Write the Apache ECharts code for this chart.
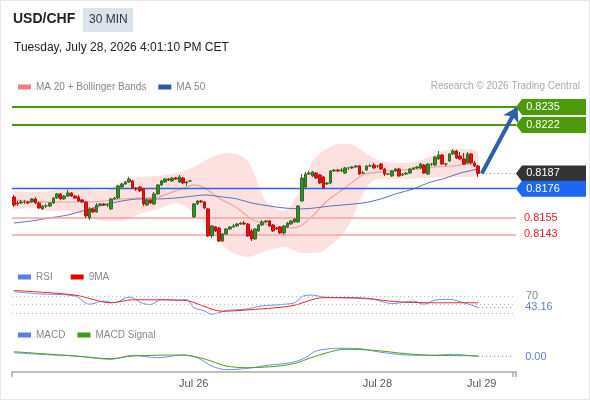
<!DOCTYPE html>
<html>
<head>
<meta charset="utf-8">
<script src="https://cdn.jsdelivr.net/npm/echarts@6/dist/echarts.min.js"></script>
<style>
html,body{margin:0;padding:0;background:#fff;}
#c{width:590px;height:400px;box-sizing:border-box;border:1px solid #e6eaef;}
</style>
</head>
<body>
<div id="c"></div>
<script>
// ---- data ----
const slots = 140;                       // 30-min slots on the time axis
const tickIdx = [50, 101, 130];
const tickText = ['Jul 26', 'Jul 28', 'Jul 29'];

// candles: [open, close, low, high]
const ohlc = [
[0.81700,0.81642,0.81628,0.81715],[0.81657,0.81650,0.81635,0.81671],[0.81657,0.81664,0.81650,0.81679],
[0.81664,0.81664,0.81650,0.81679],[0.81664,0.81657,0.81650,0.81671],[0.81664,0.81686,0.81657,0.81693],
[0.81686,0.81657,0.81650,0.81700],[0.81657,0.81621,0.81614,0.81664],[0.81614,0.81635,0.81606,0.81642],
[0.81635,0.81635,0.81621,0.81650],[0.81635,0.81657,0.81628,0.81664],[0.81657,0.81693,0.81650,0.81700],
[0.81693,0.81722,0.81686,0.81729],[0.81722,0.81686,0.81679,0.81729],[0.81686,0.81707,0.81679,0.81715],
[0.81707,0.81729,0.81700,0.81751],[0.81729,0.81707,0.81700,0.81736],[0.81707,0.81693,0.81686,0.81715],
[0.81700,0.81671,0.81664,0.81715],[0.81679,0.81664,0.81657,0.81686],[0.81664,0.81563,0.81549,0.81671],
[0.81549,0.81614,0.81534,0.81628],[0.81614,0.81592,0.81585,0.81621],[0.81592,0.81642,0.81585,0.81657],
[0.81642,0.81650,0.81635,0.81657],[0.81650,0.81642,0.81635,0.81657],[0.81642,0.81642,0.81628,0.81657],
[0.81614,0.81686,0.81606,0.81693],[0.81686,0.81693,0.81679,0.81700],[0.81693,0.81780,0.81686,0.81787],
[0.81772,0.81794,0.81765,0.81801],[0.81794,0.81808,0.81787,0.81816],[0.81808,0.81830,0.81801,0.81845],
[0.81816,0.81765,0.81758,0.81823],[0.81765,0.81758,0.81744,0.81772],[0.81772,0.81744,0.81736,0.81780],
[0.81758,0.81650,0.81635,0.81765],[0.81642,0.81679,0.81635,0.81686],[0.81679,0.81657,0.81650,0.81686],
[0.81650,0.81722,0.81642,0.81736],[0.81722,0.81787,0.81715,0.81794],[0.81787,0.81816,0.81780,0.81823],
[0.81808,0.81830,0.81801,0.81837],[0.81830,0.81823,0.81816,0.81837],[0.81816,0.81837,0.81808,0.81845],
[0.81837,0.81830,0.81823,0.81845],[0.81808,0.81845,0.81801,0.81859],[0.81837,0.81801,0.81794,0.81845],
[0.81801,0.81808,0.81780,0.81816],[0.81816,0.81816,0.81808,0.81816],[0.81556,0.81650,0.81549,0.81657],
[0.81650,0.81671,0.81642,0.81679],[0.81671,0.81664,0.81657,0.81679],[0.81664,0.81621,0.81614,0.81671],
[0.81614,0.81419,0.81411,0.81621],[0.81419,0.81491,0.81404,0.81498],[0.81484,0.81455,0.81448,0.81491],
[0.81476,0.81382,0.81375,0.81484],[0.81382,0.81433,0.81375,0.81440],[0.81433,0.81469,0.81426,0.81476],
[0.81469,0.81484,0.81462,0.81491],[0.81484,0.81491,0.81476,0.81505],[0.81491,0.81505,0.81484,0.81512],
[0.81505,0.81512,0.81498,0.81520],[0.81512,0.81505,0.81498,0.81527],[0.81505,0.81419,0.81411,0.81512],
[0.81455,0.81397,0.81382,0.81469],[0.81397,0.81469,0.81390,0.81476],[0.81455,0.81498,0.81448,0.81505],
[0.81498,0.81520,0.81491,0.81534],[0.81520,0.81527,0.81512,0.81534],[0.81527,0.81491,0.81484,0.81534],
[0.81498,0.81455,0.81448,0.81505],[0.81476,0.81469,0.81462,0.81484],[0.81484,0.81440,0.81433,0.81491],
[0.81440,0.81491,0.81426,0.81498],[0.81484,0.81512,0.81476,0.81520],[0.81505,0.81527,0.81498,0.81534],
[0.81520,0.81541,0.81512,0.81549],[0.81520,0.81635,0.81512,0.81642],[0.81671,0.81837,0.81664,0.81866],
[0.81772,0.81866,0.81758,0.81881],[0.81866,0.81873,0.81859,0.81888],[0.81852,0.81881,0.81845,0.81888],
[0.81873,0.81837,0.81830,0.81881],[0.81859,0.81801,0.81794,0.81866],[0.81845,0.81765,0.81758,0.81852],
[0.81794,0.81801,0.81787,0.81808],[0.81801,0.81888,0.81794,0.81895],[0.81888,0.81895,0.81881,0.81902],
[0.81895,0.81888,0.81881,0.81902],[0.81888,0.81895,0.81881,0.81910],[0.81873,0.81910,0.81866,0.81917],
[0.81910,0.81910,0.81895,0.81917],[0.81910,0.81917,0.81902,0.81924],[0.81917,0.81924,0.81910,0.81931],
[0.81924,0.81866,0.81859,0.81931],[0.81873,0.81873,0.81866,0.81888],[0.81895,0.81924,0.81888,0.81931],
[0.81924,0.81924,0.81917,0.81938],[0.81931,0.81910,0.81902,0.81946],[0.81924,0.81924,0.81910,0.81931],
[0.81938,0.81902,0.81895,0.81946],[0.81902,0.81866,0.81852,0.81910],[0.81866,0.81866,0.81859,0.81873],
[0.81852,0.81888,0.81845,0.81895],[0.81888,0.81902,0.81881,0.81910],[0.81902,0.81852,0.81845,0.81910],
[0.81859,0.81866,0.81852,0.81873],[0.81866,0.81873,0.81859,0.81881],[0.81873,0.81902,0.81866,0.81910],
[0.81902,0.81910,0.81895,0.81917],[0.81910,0.81917,0.81902,0.81924],[0.81910,0.81938,0.81902,0.81946],
[0.81931,0.81873,0.81866,0.81938],[0.81866,0.81938,0.81859,0.81946],[0.81938,0.81938,0.81924,0.81946],
[0.81931,0.81989,0.81924,0.81996],[0.81975,0.82003,0.81967,0.82032],[0.82003,0.81938,0.81931,0.82011],
[0.81938,0.81938,0.81924,0.81946],[0.81960,0.82011,0.81953,0.82018],[0.82011,0.82032,0.82003,0.82047],
[0.82032,0.81982,0.81975,0.82040],[0.81996,0.81975,0.81967,0.82025],[0.81975,0.81938,0.81931,0.82018],
[0.81946,0.82011,0.81938,0.82025],[0.82011,0.81946,0.81938,0.82018],[0.81946,0.81924,0.81917,0.81960],
[0.81924,0.81870,0.81845,0.81931]
];

// Bollinger bands [slot, value]
const bbUpper = [[0,0.81744],[5,0.81736],[10,0.81744],[15,0.81765],[20,0.81758],[25,0.81744],[30,0.81816],[35,0.81845],[40,0.81852],[45,0.81873],[50,0.81917],[55,0.81989],[60,0.82018],[65,0.81960],[70,0.81671],[75,0.81599],[80,0.81780],[83,0.81960],[86,0.82032],[90,0.82083],[93,0.82083],[96,0.82047],[99,0.81996],[102,0.81960],[106,0.81946],[110,0.81946],[114,0.81975],[118,0.82018],[122,0.82047],[126,0.82047],[129,0.82032]];
const bbLower = [[0,0.81614],[5,0.81621],[10,0.81599],[15,0.81599],[20,0.81563],[25,0.81527],[30,0.81527],[35,0.81577],[40,0.81614],[45,0.81657],[50,0.81585],[55,0.81440],[60,0.81310],[65,0.81267],[70,0.81310],[75,0.81339],[80,0.81296],[83,0.81296],[86,0.81310],[90,0.81397],[93,0.81491],[96,0.81671],[99,0.81801],[102,0.81830],[106,0.81830],[110,0.81830],[114,0.81837],[118,0.81845],[122,0.81845],[126,0.81845],[129,0.81852]];
const ma20 = [[0,0.81679],[10,0.81664],[20,0.81664],[25,0.81671],[30,0.81686],[35,0.81693],[40,0.81700],[45,0.81744],[48,0.81772],[50,0.81787],[53,0.81765],[57,0.81693],[62,0.81621],[66,0.81541],[70,0.81505],[75,0.81476],[79,0.81484],[83,0.81563],[87,0.81671],[92,0.81765],[97,0.81859],[102,0.81881],[107,0.81895],[112,0.81902],[117,0.81917],[122,0.81924],[126,0.81938],[129,0.81917]];
const ma50 = [[0,0.81512],[5,0.81527],[10,0.81549],[15,0.81570],[20,0.81606],[25,0.81642],[30,0.81671],[35,0.81686],[40,0.81686],[45,0.81693],[50,0.81707],[53,0.81715],[58,0.81700],[62,0.81686],[66,0.81657],[71,0.81635],[75,0.81621],[80,0.81614],[88,0.81635],[97,0.81657],[102,0.81686],[106,0.81722],[111,0.81758],[115,0.81801],[120,0.81837],[124,0.81873],[129,0.81902]];

// key levels
const resistLevels = [0.8235, 0.8222];
const pivotLevel = 0.8176;
const supportLevels = [0.8155, 0.8143];
const lastPrice = 0.8187;
const arrowFrom = [130, 0.8187];
const arrowTo = [139.9, 0.8235];

// RSI and its 9MA [slot, value]
const rsiLine = [[0,80],[7,75],[17,70],[21,50.5],[25,58],[28,54],[32,67.6],[36,52],[38,50],[41,62],[46,60],[48,62],[50,42.5],[53,34.7],[55,27],[57,30.8],[59,36],[64,38.6],[69,46.5],[75,50.5],[78,54],[81,71.6],[83,72],[86,67.6],[90,66],[95,64.5],[100,62],[105,52],[111,58],[114,50.5],[117,60],[121,62],[124,56.6],[129,43.16]];
const rsiMA = [[0,83],[17,72],[27,54],[33,61],[47,60],[58,34],[64,36.7],[77,46.5],[86,66],[95,66],[106,56.6],[116,54],[129,54]];
const rsiLevels = [70, 50, 30];
const rsiLast = 43.16;

// MACD and signal [slot, value]
const macdLine = [[0,0.000043],[7,0.000027],[17,0.000010],[27,-0.000023],[33,0.000017],[40,-0.000007],[47,0.000020],[51,-0.000007],[55,-0.000090],[59,-0.000127],[65,-0.000113],[71,-0.000080],[77,-0.000057],[81,-0.000007],[84,0.000060],[90,0.000087],[95,0.000087],[101,0.000053],[109,0.000020],[116,0.000017],[122,0.000027],[129,0.000003]];
const macdSignal = [[0,0.000053],[17,0.000010],[27,-0.000017],[33,0.000010],[47,0.000020],[53,-0.000020],[59,-0.000090],[65,-0.000107],[77,-0.000073],[84,0.000010],[92,0.000077],[100,0.000067],[109,0.000033],[116,0.000017],[129,0.000013]];
const macdLast = 0.000003;

// ---- chart ----
const cats = [];
for (let i = 0; i < slots; i++) cats.push(String(i));
const bbWidth = bbUpper.map((p, k) => [p[0], +(p[1] - bbLower[k][1]).toFixed(5)]);
const lastIdx = ohlc.length - 1;
const FONT = 'Liberation Sans, Arial, sans-serif';

// overlay grid: same slot width as the main grid, a little wider to hold the arrow tip
const plotLeft = 11, plotWidth = 504, overlayExtra = 12;
const slotW = plotWidth / slots;
const overlayMax = -0.5 + (plotWidth + overlayExtra) / slotW;

const tagSymbol = 'path://M0,8L6,0L70,0L70,16L6,16Z';
function tag(v, color) {
  return {coord: [slots - 0.5, v], value: v.toFixed(4), itemStyle: {color: color}};
}
function levelLine(v, color, width) {
  return [{coord: [-0.5, v], lineStyle: {color: color, width: width, type: 'solid'}}, {coord: [slots - 0.5, v]}];
}
function supportLine(v) {
  return [{coord: [-0.5, v], lineStyle: {color: '#f5a3a3', width: 1.5, type: 'solid'},
           label: {show: true, position: 'end', distance: 8, color: '#ee1c1c', fontSize: 11, fontFamily: FONT, formatter: v.toFixed(4)}},
          {coord: [slots - 0.5, v]}];
}

const chart = echarts.init(document.getElementById('c'), null, {renderer: 'canvas'});
chart.setOption({
  animation: false,
  textStyle: {fontFamily: FONT},
  graphic: [
    {type: 'text', left: 12, top: 11, style: {text: 'USD/CHF', font: 'bold 14px ' + FONT, fill: '#222'}},
    {type: 'rect', shape: {x: 82, y: 7, width: 50, height: 24}, style: {fill: '#dbe3ec'}},
    {type: 'text', left: 88, top: 13, style: {text: '30 MIN', font: '12px ' + FONT, fill: '#333'}},
    {type: 'text', left: 13, top: 41, style: {text: 'Tuesday, July 28, 2026 4:01:10 PM CET', font: '12px ' + FONT, fill: '#222'}},
    {type: 'text', right: 9, top: 80, style: {text: 'Research \u00a9 2026 Trading Central', font: '10px ' + FONT, fill: '#aaa'}}
  ],
  legend: [
    {left: 12, top: 76, itemWidth: 13, itemHeight: 5, icon: 'rect', selectedMode: false, itemGap: 12,
     textStyle: {color: '#888', fontSize: 10, fontFamily: FONT},
     data: [{name: 'MA 20 + Bollinger Bands', itemStyle: {color: '#f87d7d'}}, {name: 'MA 50', itemStyle: {color: '#2d5a9e'}}]},
    {left: 12, top: 266, itemWidth: 13, itemHeight: 5, icon: 'rect', selectedMode: false, itemGap: 18,
     textStyle: {color: '#888', fontSize: 10, fontFamily: FONT},
     data: [{name: 'RSI', itemStyle: {color: '#5b7fe0'}}, {name: '9MA', itemStyle: {color: '#e60000'}}]},
    {left: 12, top: 324, itemWidth: 13, itemHeight: 5, icon: 'rect', selectedMode: false, itemGap: 12,
     textStyle: {color: '#888', fontSize: 10, fontFamily: FONT},
     data: [{name: 'MACD', itemStyle: {color: '#5b7fe0'}}, {name: 'MACD Signal', itemStyle: {color: '#3f9a0f'}}]}
  ],
  grid: [
    {left: plotLeft, width: plotWidth, top: 99.1, height: 157.8},
    {left: plotLeft, width: plotWidth, top: 288.6, height: 25.5},
    {left: plotLeft, width: plotWidth, top: 346, height: 25},
    {left: plotLeft, width: plotWidth + overlayExtra, top: 99.1, height: 157.8}
  ],
  xAxis: [
    {type: 'category', gridIndex: 0, data: cats, show: false},
    {type: 'value', gridIndex: 3, min: -0.5, max: overlayMax, show: false},
    {type: 'category', gridIndex: 1, data: cats, show: false},
    {type: 'category', gridIndex: 2, data: cats,
     axisLine: {onZero: false, lineStyle: {color: '#aaa', width: 1.5}},
     axisTick: {show: true, inside: false, length: 5, lineStyle: {color: '#aaa', width: 1.5},
                interval: (i) => i === 0 || i === slots - 1},
     axisLabel: {interval: (i) => tickIdx.indexOf(i) >= 0,
                 formatter: (v, i) => tickText[tickIdx.indexOf(i)] || '',
                 color: '#555', fontSize: 11, margin: 6, fontFamily: FONT}}
  ],
  yAxis: [
    {gridIndex: 0, min: 0.8126, max: 0.8240, show: false},
    {gridIndex: 1, min: 25, max: 85, show: false},
    {gridIndex: 2, min: -0.00015, max: 0.0001, show: false},
    {gridIndex: 3, min: 0.8126, max: 0.8240, show: false}
  ],
  series: [
    {type: 'line', name: 'bbBase', data: bbLower, stack: 'bb', smooth: 0.3, symbol: 'none', silent: true,
     lineStyle: {opacity: 0}, z: 1},
    {type: 'line', name: 'bbFill', data: bbWidth, stack: 'bb', smooth: 0.3, symbol: 'none', silent: true,
     lineStyle: {opacity: 0}, areaStyle: {color: '#fde1e1', opacity: 1}, z: 1},
    {type: 'line', name: 'MA 20 + Bollinger Bands', data: ma20, smooth: 0.3, symbol: 'none',
     lineStyle: {color: '#f5a0a0', width: 1.2}, itemStyle: {color: '#f5a0a0'}, z: 2},
    {type: 'line', name: 'MA 50', data: ma50, smooth: 0.3, symbol: 'none',
     lineStyle: {color: '#5574b0', width: 1}, itemStyle: {color: '#5574b0'}, z: 2},
    {type: 'candlestick', name: 'USD/CHF', data: ohlc, barWidth: 3, z: 5,
     itemStyle: {color: '#3b8a2c', color0: '#e31212', borderColor: '#2f6e22', borderColor0: '#c21010', borderWidth: 1}},
    {type: 'line', name: 'levels', xAxisIndex: 1, yAxisIndex: 3, data: [arrowFrom], symbol: 'none', silent: true, z: 3,
     lineStyle: {opacity: 0},
     markLine: {silent: true, symbol: ['none', 'none'], animation: false, label: {show: false},
       data: [
         levelLine(resistLevels[0], '#4c9a0a', 2),
         levelLine(resistLevels[1], '#4c9a0a', 2),
         levelLine(pivotLevel, '#2c66d6', 1.3),
         supportLine(supportLevels[0]),
         supportLine(supportLevels[1]),
         [{coord: [lastIdx + 1, lastPrice], lineStyle: {color: '#888', width: 1, type: [1, 3]}},
          {coord: [slots - 0.5, lastPrice]}]
       ]},
     markPoint: {silent: true, symbol: tagSymbol, symbolSize: [70, 16], symbolOffset: [35, 0], animation: false,
       label: {show: true, position: 'inside', color: '#fff', fontSize: 11, fontFamily: FONT, offset: [-8, 0], formatter: (p) => p.value},
       data: [tag(resistLevels[0], '#4c9a0a'), tag(resistLevels[1], '#4c9a0a'), tag(lastPrice, '#333333'), tag(pivotLevel, '#1f66f0')]}
    },
    {type: 'line', name: 'arrow', xAxisIndex: 1, yAxisIndex: 3, data: [arrowFrom], symbol: 'none', silent: true, z: 6,
     lineStyle: {opacity: 0},
     markLine: {silent: true, animation: false, symbol: ['none', 'arrow'], symbolSize: [13, 14],
       lineStyle: {color: '#2e5fa8', width: 4, type: 'solid'}, label: {show: false},
       data: [[{coord: arrowFrom}, {coord: arrowTo}]]}},
    {type: 'line', name: 'RSI', xAxisIndex: 2, yAxisIndex: 1, data: rsiLine, smooth: 0.3, symbol: 'none',
     lineStyle: {color: '#6f8fe6', width: 1}, itemStyle: {color: '#6f8fe6'}, z: 3,
     markLine: {silent: true, symbol: ['none', 'none'], animation: false,
       data: [
         {yAxis: rsiLevels[0], lineStyle: {color: '#bbb', width: 1, type: [1, 3]},
          label: {show: true, position: 'end', distance: 10, color: '#888', fontSize: 11, fontFamily: FONT, formatter: String(rsiLevels[0])}},
         {yAxis: rsiLevels[1], lineStyle: {color: '#bbb', width: 1, type: [1, 3]}, label: {show: false}},
         {yAxis: rsiLevels[2], lineStyle: {color: '#bbb', width: 1, type: [1, 3]}, label: {show: false}},
         [{coord: [lastIdx, rsiLast], lineStyle: {color: '#6f8fe6', width: 1, type: [1, 3]},
           label: {show: true, position: 'end', distance: 11, color: '#5b7fe0', fontSize: 11, fontFamily: FONT, formatter: rsiLast.toFixed(2)}},
          {coord: [slots - 1, rsiLast]}]
       ]}},
    {type: 'line', name: '9MA', xAxisIndex: 2, yAxisIndex: 1, data: rsiMA, smooth: 0.3, symbol: 'none',
     lineStyle: {color: '#e8262b', width: 1}, itemStyle: {color: '#e8262b'}, z: 4},
    {type: 'line', name: 'MACD', xAxisIndex: 3, yAxisIndex: 2, data: macdLine, smooth: 0.3, symbol: 'none',
     lineStyle: {color: '#6f8fe6', width: 1}, itemStyle: {color: '#6f8fe6'}, z: 3,
     markLine: {silent: true, symbol: ['none', 'none'], animation: false,
       data: [
         [{coord: [lastIdx, macdLast], lineStyle: {color: '#6f8fe6', width: 1, type: [1, 3]},
           label: {show: true, position: 'end', distance: 11, color: '#5b7fe0', fontSize: 11, fontFamily: FONT, formatter: macdLast.toFixed(2)}},
          {coord: [slots - 1, macdLast]}]
       ]}},
    {type: 'line', name: 'MACD Signal', xAxisIndex: 3, yAxisIndex: 2, data: macdSignal, smooth: 0.3, symbol: 'none',
     lineStyle: {color: '#4f9e1c', width: 1}, itemStyle: {color: '#4f9e1c'}, z: 4}
  ]
});
</script>
</body>
</html>
